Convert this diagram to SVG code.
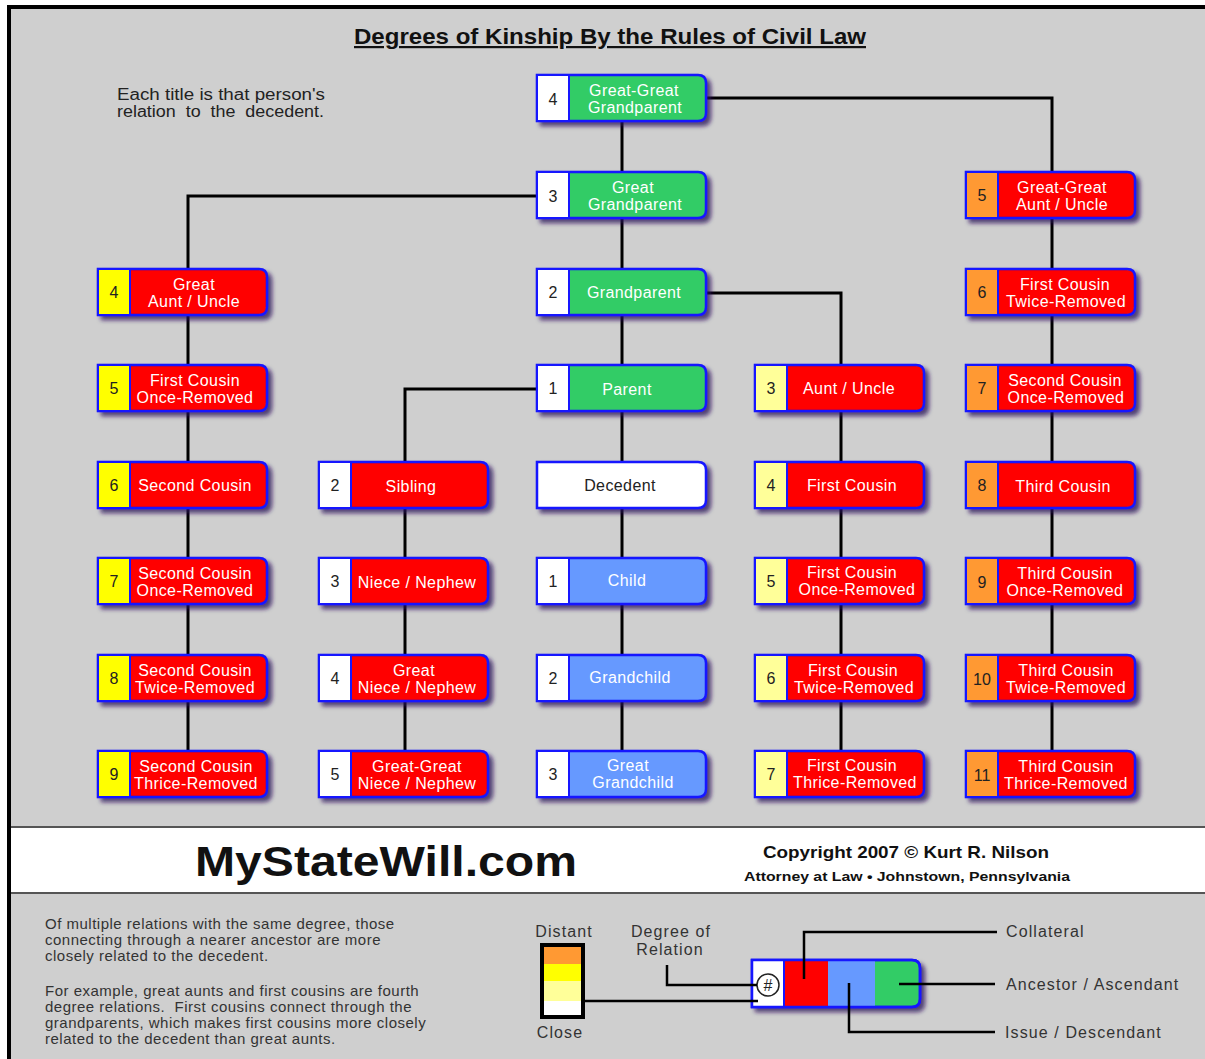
<svg xmlns="http://www.w3.org/2000/svg" xmlns:xlink="http://www.w3.org/1999/xlink" width="1205" height="1059" viewBox="0 0 1205 1059">
<style>
text{font-family:"Liberation Sans",Arial,Helvetica,sans-serif}
.c path{fill:none;stroke:#000;stroke-width:3}
.s{stroke:#1616ff;stroke-width:2.5;filter:url(#ds)}
.nb{stroke:#1616ff;stroke-width:2}
.red{fill:#ff0000}.grn{fill:#33cc66}.blu{fill:#6699ff}.wht{fill:#ffffff}
.yel{fill:#ffff00}.lyl{fill:#ffff99}.org{fill:#ff9933}
.lt{font-size:16px;fill:#fff;text-anchor:middle;letter-spacing:0.4px}
.nt{font-size:16px;fill:#222;text-anchor:middle}
.dt{font-size:16px;fill:#222;text-anchor:middle;letter-spacing:0.4px}
.tx{font-size:15px;fill:#333;letter-spacing:0.5px}
.lg{font-size:16px;fill:#333;letter-spacing:1.1px}
.ll path{fill:none;stroke:#000;stroke-width:2.5}
</style>
<defs>
<filter id="ds" x="-10%" y="-20%" width="130%" height="160%">
<feDropShadow dx="4" dy="4" stdDeviation="2" flood-color="#2a0a5a" flood-opacity="0.75"/>
</filter>
<path id="shp" d="M0 0H161Q169 0 169 8V38Q169 46 161 46H0Z"/>
</defs>
<rect width="1205" height="1059" fill="#fff"/>
<rect x="9" y="7" width="1210" height="1070" fill="#cfcfcf" stroke="#000" stroke-width="4"/>
<text x="610" y="44" font-size="22" font-weight="bold" fill="#111" text-anchor="middle" text-decoration="underline" textLength="512" lengthAdjust="spacingAndGlyphs">Degrees of Kinship By the Rules of Civil Law</text>
<g id="note">
<text x="117" y="100" font-size="16" fill="#222" textLength="208" lengthAdjust="spacingAndGlyphs">Each title is that person's</text>
<text x="117" y="117" font-size="16" fill="#222" xml:space="preserve" textLength="207" lengthAdjust="spacingAndGlyphs">relation  to  the  decedent.</text>
</g>
<g id="connectors" class="c">
<path d="M706 98H1052V172"/>
<path d="M622 122V172"/>
<path d="M537 196H188V269"/>
<path d="M622 218V269"/>
<path d="M706 293H841V365"/>
<path d="M622 314V365"/>
<path d="M537 389H405V462"/>
<path d="M622 412V751"/>
<path d="M188 314V751"/>
<path d="M405 508V751"/>
<path d="M841 412V751"/>
<path d="M1052 218V751"/>
</g>
<!-- Column A -->
<g id="n-great-aunt" transform="translate(98,269)"><use href="#shp" class="s red"/><rect class="nb yel" width="32" height="46"/><text class="nt" x="16" y="29">4</text><text class="lt" x="96" y="21">Great</text><text class="lt" x="96" y="38">Aunt / Uncle</text></g>
<g id="n-first-cousin-once-a" transform="translate(98,365)"><use href="#shp" class="s red"/><rect class="nb yel" width="32" height="46"/><text class="nt" x="16" y="29">5</text><text class="lt" x="97" y="21">First Cousin</text><text class="lt" x="97" y="38">Once-Removed</text></g>
<g id="n-second-cousin-a" transform="translate(98,462)"><use href="#shp" class="s red"/><rect class="nb yel" width="32" height="46"/><text class="nt" x="16" y="29">6</text><text class="lt" x="97" y="29">Second Cousin</text></g>
<g id="n-second-cousin-once-a" transform="translate(98,558)"><use href="#shp" class="s red"/><rect class="nb yel" width="32" height="46"/><text class="nt" x="16" y="29">7</text><text class="lt" x="97" y="21">Second Cousin</text><text class="lt" x="97" y="38">Once-Removed</text></g>
<g id="n-second-cousin-twice-a" transform="translate(98,655)"><use href="#shp" class="s red"/><rect class="nb yel" width="32" height="46"/><text class="nt" x="16" y="29">8</text><text class="lt" x="97" y="21">Second Cousin</text><text class="lt" x="97" y="38">Twice-Removed</text></g>
<g id="n-second-cousin-thrice-a" transform="translate(98,751)"><use href="#shp" class="s red"/><rect class="nb yel" width="32" height="46"/><text class="nt" x="16" y="29">9</text><text class="lt" x="98" y="21">Second Cousin</text><text class="lt" x="98" y="38">Thrice-Removed</text></g>
<!-- Column B -->
<g id="n-sibling" transform="translate(319,462)"><use href="#shp" class="s red"/><rect class="nb wht" width="32" height="46"/><text class="nt" x="16" y="29">2</text><text class="lt" x="92" y="30">Sibling</text></g>
<g id="n-niece" transform="translate(319,558)"><use href="#shp" class="s red"/><rect class="nb wht" width="32" height="46"/><text class="nt" x="16" y="29">3</text><text class="lt" x="98" y="30">Niece / Nephew</text></g>
<g id="n-great-niece" transform="translate(319,655)"><use href="#shp" class="s red"/><rect class="nb wht" width="32" height="46"/><text class="nt" x="16" y="29">4</text><text class="lt" x="95" y="21">Great</text><text class="lt" x="98" y="38">Niece / Nephew</text></g>
<g id="n-gg-niece" transform="translate(319,751)"><use href="#shp" class="s red"/><rect class="nb wht" width="32" height="46"/><text class="nt" x="16" y="29">5</text><text class="lt" x="98" y="21">Great-Great</text><text class="lt" x="98" y="38">Niece / Nephew</text></g>
<!-- Column C -->
<g id="n-gg-grandparent" transform="translate(537,75)"><use href="#shp" class="s grn"/><rect class="nb wht" width="32" height="46"/><text class="nt" x="16" y="30">4</text><text class="lt" x="97" y="21">Great-Great</text><text class="lt" x="98" y="38">Grandparent</text></g>
<g id="n-great-grandparent" transform="translate(537,172)"><use href="#shp" class="s grn"/><rect class="nb wht" width="32" height="46"/><text class="nt" x="16" y="30">3</text><text class="lt" x="96" y="21">Great</text><text class="lt" x="98" y="38">Grandparent</text></g>
<g id="n-grandparent" transform="translate(537,269)"><use href="#shp" class="s grn"/><rect class="nb wht" width="32" height="46"/><text class="nt" x="16" y="29">2</text><text class="lt" x="97" y="29">Grandparent</text></g>
<g id="n-parent" transform="translate(537,365)"><use href="#shp" class="s grn"/><rect class="nb wht" width="32" height="46"/><text class="nt" x="16" y="29">1</text><text class="lt" x="90" y="30">Parent</text></g>
<g id="n-decedent" transform="translate(537,462)"><use href="#shp" class="s wht"/><text class="dt" x="83" y="29">Decedent</text></g>
<g id="n-child" transform="translate(537,558)"><use href="#shp" class="s blu"/><rect class="nb wht" width="32" height="46"/><text class="nt" x="16" y="29">1</text><text class="lt" x="90" y="28">Child</text></g>
<g id="n-grandchild" transform="translate(537,655)"><use href="#shp" class="s blu"/><rect class="nb wht" width="32" height="46"/><text class="nt" x="16" y="29">2</text><text class="lt" x="93" y="28">Grandchild</text></g>
<g id="n-great-grandchild" transform="translate(537,751)"><use href="#shp" class="s blu"/><rect class="nb wht" width="32" height="46"/><text class="nt" x="16" y="29">3</text><text class="lt" x="91" y="20">Great</text><text class="lt" x="96" y="37">Grandchild</text></g>
<!-- Column D -->
<g id="n-aunt" transform="translate(755,365)"><use href="#shp" class="s red"/><rect class="nb lyl" width="32" height="46"/><text class="nt" x="16" y="29">3</text><text class="lt" x="94" y="29">Aunt / Uncle</text></g>
<g id="n-first-cousin" transform="translate(755,462)"><use href="#shp" class="s red"/><rect class="nb lyl" width="32" height="46"/><text class="nt" x="16" y="29">4</text><text class="lt" x="97" y="29">First Cousin</text></g>
<g id="n-first-cousin-once" transform="translate(755,558)"><use href="#shp" class="s red"/><rect class="nb lyl" width="32" height="46"/><text class="nt" x="16" y="29">5</text><text class="lt" x="97" y="20">First Cousin</text><text class="lt" x="102" y="37">Once-Removed</text></g>
<g id="n-first-cousin-twice" transform="translate(755,655)"><use href="#shp" class="s red"/><rect class="nb lyl" width="32" height="46"/><text class="nt" x="16" y="29">6</text><text class="lt" x="98" y="21">First Cousin</text><text class="lt" x="99" y="38">Twice-Removed</text></g>
<g id="n-first-cousin-thrice" transform="translate(755,751)"><use href="#shp" class="s red"/><rect class="nb lyl" width="32" height="46"/><text class="nt" x="16" y="29">7</text><text class="lt" x="97" y="20">First Cousin</text><text class="lt" x="100" y="37">Thrice-Removed</text></g>
<!-- Column E -->
<g id="n-gg-aunt" transform="translate(966,172)"><use href="#shp" class="s red"/><rect class="nb org" width="32" height="46"/><text class="nt" x="16" y="29">5</text><text class="lt" x="96" y="21">Great-Great</text><text class="lt" x="96" y="38">Aunt / Uncle</text></g>
<g id="n-first-cousin-twice-e" transform="translate(966,269)"><use href="#shp" class="s red"/><rect class="nb org" width="32" height="46"/><text class="nt" x="16" y="29">6</text><text class="lt" x="99" y="21">First Cousin</text><text class="lt" x="100" y="38">Twice-Removed</text></g>
<g id="n-second-cousin-once-e" transform="translate(966,365)"><use href="#shp" class="s red"/><rect class="nb org" width="32" height="46"/><text class="nt" x="16" y="29">7</text><text class="lt" x="99" y="21">Second Cousin</text><text class="lt" x="100" y="38">Once-Removed</text></g>
<g id="n-third-cousin" transform="translate(966,462)"><use href="#shp" class="s red"/><rect class="nb org" width="32" height="46"/><text class="nt" x="16" y="29">8</text><text class="lt" x="97" y="30">Third Cousin</text></g>
<g id="n-third-cousin-once" transform="translate(966,558)"><use href="#shp" class="s red"/><rect class="nb org" width="32" height="46"/><text class="nt" x="16" y="30">9</text><text class="lt" x="99" y="21">Third Cousin</text><text class="lt" x="99" y="38">Once-Removed</text></g>
<g id="n-third-cousin-twice" transform="translate(966,655)"><use href="#shp" class="s red"/><rect class="nb org" width="32" height="46"/><text class="nt" x="16" y="30" font-size="17">10</text><text class="lt" x="100" y="21">Third Cousin</text><text class="lt" x="100" y="38">Twice-Removed</text></g>
<g id="n-third-cousin-thrice" transform="translate(966,751)"><use href="#shp" class="s red"/><rect class="nb org" width="32" height="46"/><text class="nt" x="16" y="30" font-size="17">11</text><text class="lt" x="100" y="21">Third Cousin</text><text class="lt" x="100" y="38">Thrice-Removed</text></g>
<!-- Footer band -->
<g id="footer">
<rect x="11" y="827" width="1194" height="66" fill="#fff"/>
<path d="M11 827H1205M11 893H1205" stroke="#555" stroke-width="2" fill="none"/>
<text x="195" y="876" font-size="43" font-weight="bold" fill="#111" textLength="382" lengthAdjust="spacingAndGlyphs">MyStateWill.com</text>
<text x="906" y="858" font-size="17" font-weight="bold" fill="#111" text-anchor="middle" textLength="286" lengthAdjust="spacingAndGlyphs">Copyright 2007 © Kurt R. Nilson</text>
<text x="907" y="881" font-size="13.5" font-weight="bold" fill="#111" text-anchor="middle" textLength="326" lengthAdjust="spacingAndGlyphs">Attorney at Law • Johnstown, Pennsylvania</text>
</g>
<!-- Bottom notes -->
<g id="notes">
<text class="tx" x="45" y="929">Of multiple relations with the same degree, those</text>
<text class="tx" x="45" y="945">connecting through a nearer ancestor are more</text>
<text class="tx" x="45" y="961">closely related to the decedent.</text>
<text class="tx" x="45" y="996">For example, great aunts and first cousins are fourth</text>
<text class="tx" x="45" y="1012" xml:space="preserve">degree relations.  First cousins connect through the</text>
<text class="tx" x="45" y="1028">grandparents, which makes first cousins more closely</text>
<text class="tx" x="45" y="1044">related to the decedent than great aunts.</text>
</g>
<!-- Legend -->
<g id="legend-scale">
<rect x="542" y="945" width="41" height="72" fill="#fff" stroke="#000" stroke-width="4"/>
<rect x="544" y="947" width="37" height="17" fill="#ff9933"/>
<rect x="544" y="964" width="37" height="17" fill="#ffff00"/>
<rect x="544" y="981" width="37" height="20" fill="#ffff99"/>
<text class="lg" x="564" y="937" text-anchor="middle">Distant</text>
<text class="lg" x="560" y="1038" text-anchor="middle">Close</text>
</g>
<g id="legend-labels">
<text class="lg" x="671" y="937" text-anchor="middle">Degree of</text>
<text class="lg" x="670" y="955" text-anchor="middle">Relation</text>
<text class="lg" x="1006" y="937">Collateral</text>
<text class="lg" x="1006" y="990">Ancestor / Ascendant</text>
<text class="lg" x="1005" y="1038">Issue / Descendant</text>
</g>
<g id="legend-node">
<path d="M752 960H912Q920 960 920 968V999Q920 1007 912 1007H752Z" fill="#33cc66" class="s"/>
<rect x="752" y="960" width="32" height="47" fill="#fff"/>
<rect x="784" y="960" width="44" height="47" fill="#ff0000"/>
<rect x="828" y="960" width="47" height="47" fill="#6699ff"/>
<path d="M752 960H912Q920 960 920 968V999Q920 1007 912 1007H752Z" fill="none" stroke="#1616ff" stroke-width="2.5"/>
<line x1="784" y1="960" x2="784" y2="1007" stroke="#1616ff" stroke-width="2"/>
<circle cx="768" cy="985" r="11" fill="#fff" stroke="#222" stroke-width="1.5"/>
<text x="768" y="991" font-size="16" fill="#222" text-anchor="middle">#</text>
</g>
<g id="legend-connectors" class="ll">
<path d="M585 1001H758"/>
<path d="M667 965V985H757"/>
<path d="M804 979V932H997"/>
<path d="M899 984H995"/>
<path d="M849 983V1032H995"/>
</g>
</svg>
